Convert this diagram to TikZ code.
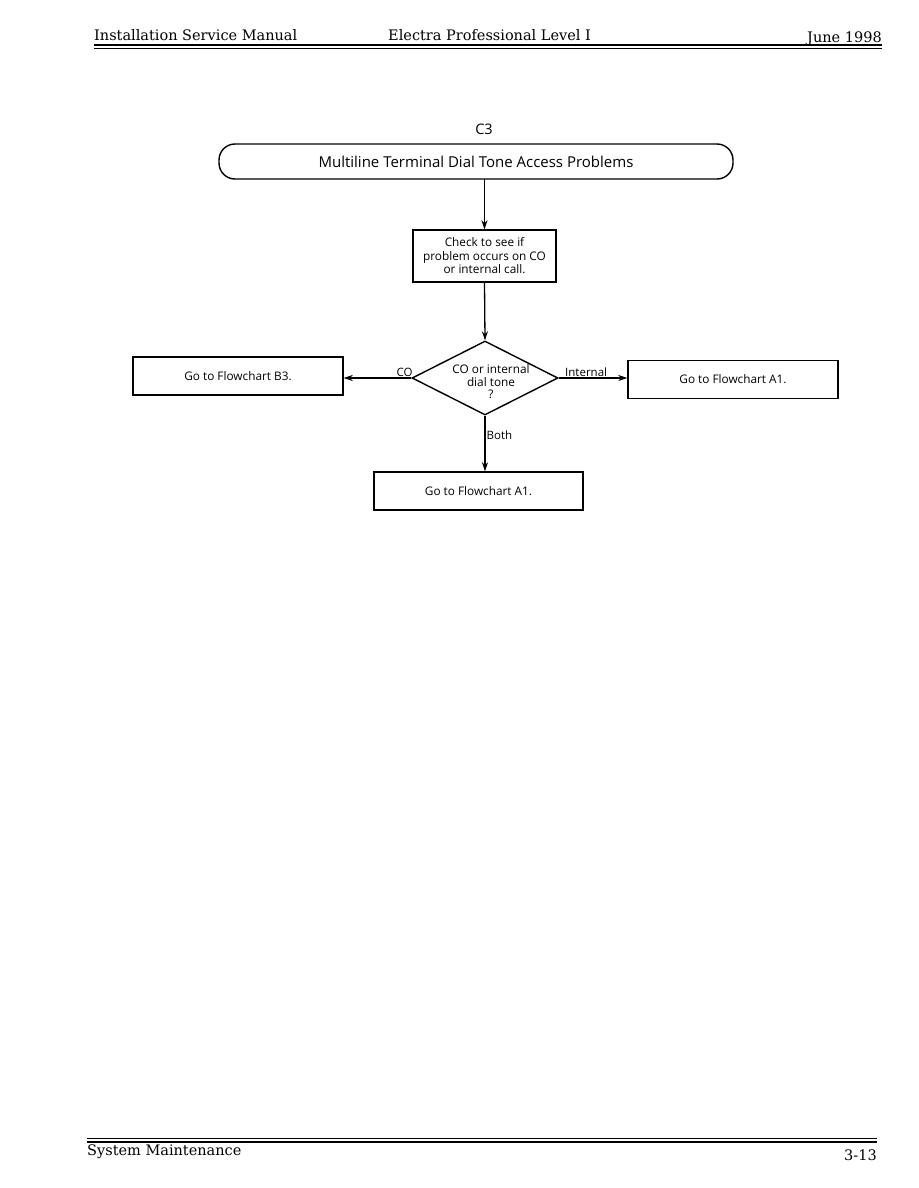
\documentclass[tikz,border=0pt]{standalone}
\usepackage{fontspec}
\setmainfont{DejaVu Serif}
\newfontfamily\diafont{Open Sans}
\usetikzlibrary{arrows.meta,shapes.geometric}
\tikzset{
  x=1pt,y=-1pt,
  procbox/.style={draw,line width=1.4pt,minimum height=38pt,font=\diafont\fontsize{11.8}{13.5}\selectfont,align=center,inner sep=0pt},
  flowarrow/.style={line width=1.3pt,-{Stealth[length=9pt,width=6pt]}},
  lbl/.style={font=\diafont\fontsize{11.5}{13}\selectfont,inner sep=1pt},
  hdr/.style={font=\fontsize{14.5}{16}\selectfont,inner sep=0pt,anchor=base west}
}
\begin{document}
\begin{tikzpicture}
\useasboundingbox[fill=white] (0,0) rectangle (918,1188);
% header
\node[hdr] (h1) at (94,41) {Installation Service Manual};
\node[hdr] (h2) at (388,41) {Electra Professional Level I};
\node[hdr,anchor=base east] (h3) at (882,43) {June 1998};
\fill (94,44) rectangle (882,46.5);
\draw[line width=0.6pt] (94,48.5) -- (882,48.5);
% footer
\draw[line width=0.6pt] (87,1138.5) -- (877,1138.5);
\fill (87,1140.5) rectangle (877,1143);
\node[hdr] (f1) at (87,1155) {System Maintenance};
\node[hdr,anchor=base east] (f2) at (877,1160) {3-13};
% diagram
\node[font=\diafont\fontsize{14.5}{16}\selectfont] (c3) at (484,129) {C3};
\node[draw,line width=1.4pt,rounded corners=16pt,minimum width=514pt,minimum height=35pt,font=\diafont\fontsize{15}{17}\selectfont] (start) at (476,161.5) {Multiline Terminal Dial Tone Access Problems};
\node[procbox,minimum width=143pt,minimum height=52pt] (check) at (484.5,256) {Check to see if\\problem occurs on CO\\or internal call.};
\node[draw,diamond,line width=1.4pt,minimum width=146pt,minimum height=74pt,inner sep=0pt,aspect=2] (dec) at (485,378) {};
\node[font=\diafont\fontsize{11.8}{12.5}\selectfont,align=center] (dectext) at (491,382) {CO or internal\\dial tone\\?};
\node[procbox,minimum width=210pt] (b3) at (238,376) {Go to Flowchart B3.};
\node[procbox,minimum width=210pt] (a1r) at (733,379.5) {Go to Flowchart A1.};
\node[procbox,minimum width=209pt] (a1b) at (478.5,491) {Go to Flowchart A1.};
\coordinate (startbot) at (484.5,179);
\draw[flowarrow] (startbot) -- (check.north);
\draw[flowarrow] (check.south) -- (dec.north);
\draw[flowarrow] (dec.west) -- (b3.east |- dec.west) node[lbl,pos=0.1,above] {CO};
\draw[flowarrow] (dec.east) -- (a1r.west |- dec.east) node[lbl,pos=0.4,above] {Internal};
\draw[flowarrow] (dec.south) -- (dec.south |- a1b.north) node[lbl,pos=0.35,right] {Both};
\end{tikzpicture}
\end{document}
